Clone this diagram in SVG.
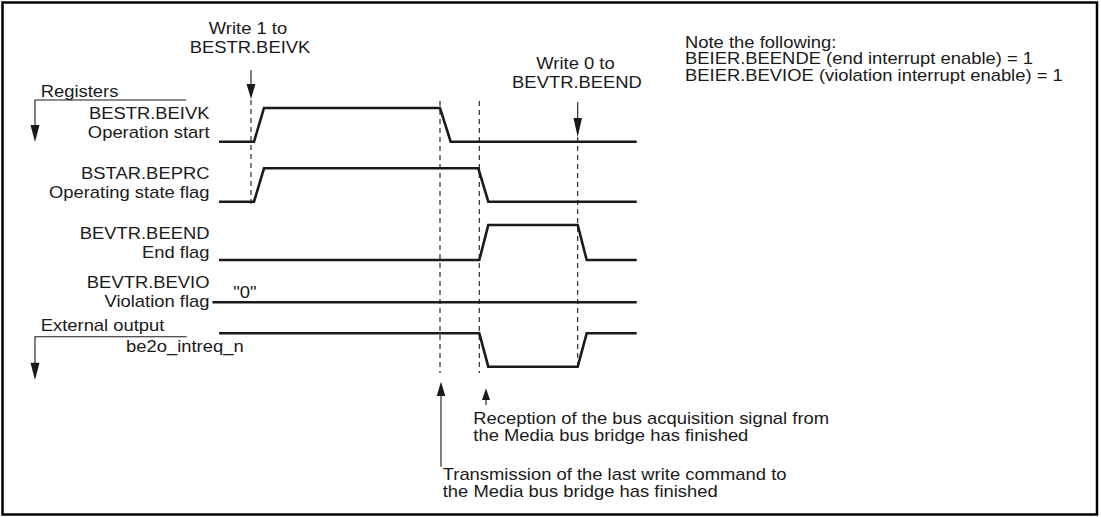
<svg xmlns="http://www.w3.org/2000/svg" width="1101" height="517" viewBox="0 0 1101 517">
<style>
text{font-family:"Liberation Sans",Arial,Helvetica,sans-serif;font-size:16px;fill:#1a1a1a}
.e{text-anchor:end}
.m{text-anchor:middle}
.sig{fill:none;stroke:#1a1a1a;stroke-width:2.6;stroke-linejoin:miter}
.dash{fill:none;stroke:#1a1a1a;stroke-width:1.1;stroke-dasharray:5 4}
.ln{fill:none;stroke:#1a1a1a;stroke-width:1.1}
.ah{fill:#1a1a1a;stroke:none}
</style>
<rect x="2.5" y="2.5" width="1094.5" height="512" fill="#fff" stroke="#000" stroke-width="2.5"/>

<g id="note">
<text transform="translate(685,47.7) scale(1.15,1)">Note the following:</text>
<text transform="translate(685,64.3) scale(1.15,1)">BEIER.BEENDE (end interrupt enable) = 1</text>
<text transform="translate(685,81) scale(1.15,1)">BEIER.BEVIOE (violation interrupt enable) = 1</text>
</g>

<g id="write1">
<text class="m" transform="translate(248,34.3) scale(1.15,1)">Write 1 to</text>
<text class="m" transform="translate(250,53.3) scale(1.15,1)">BESTR.BEIVK</text>
</g>
<g id="write0">
<text class="m" transform="translate(575.5,69.3) scale(1.15,1)">Write 0 to</text>
<text class="m" transform="translate(577,88.3) scale(1.15,1)">BEVTR.BEEND</text>
</g>

<g id="registers">
<text transform="translate(40.7,96.7) scale(1.15,1)">Registers</text>
<polyline class="ln" points="186,100 35,100 35,126"/>
<polygon class="ah" points="30.5,125 39.5,125 35,142"/>
</g>

<g id="bestr">
<text class="e" transform="translate(209.5,118.5) scale(1.15,1)">BESTR.BEIVK</text>
<text class="e" transform="translate(209.5,137.5) scale(1.15,1)">Operation start</text>
<path class="sig" d="M219,141.7 H254 L264,108 H440 L450.7,141.7 H636.7"/>
</g>

<g id="bstar">
<text class="e" transform="translate(209.5,179) scale(1.15,1)">BSTAR.BEPRC</text>
<text class="e" transform="translate(209.5,198) scale(1.15,1)">Operating state flag</text>
<path class="sig" d="M219,201.7 H254 L264,168.3 H478.3 L488.3,201.7 H636.7"/>
</g>

<g id="beend">
<text class="e" transform="translate(209.5,238.5) scale(1.15,1)">BEVTR.BEEND</text>
<text class="e" transform="translate(209.5,257.5) scale(1.15,1)">End flag</text>
<path class="sig" d="M219,260 H479.3 L488.3,225 H577.7 L586.7,260 H636.7"/>
</g>

<g id="bevio">
<text class="e" transform="translate(209.5,287.5) scale(1.15,1)">BEVTR.BEVIO</text>
<text class="e" transform="translate(209.5,306.5) scale(1.15,1)">Violation flag</text>
<text transform="translate(233.3,298) scale(1.15,1)">"0"</text>
<path class="sig" d="M212.5,302.3 H636.7"/>
</g>

<g id="external">
<text transform="translate(40.7,331) scale(1.15,1)">External output</text>
<polyline class="ln" points="186.7,336.7 35,336.7 35,363"/>
<polygon class="ah" points="30.5,362.7 39.5,362.7 35,380"/>
<text transform="translate(126,351.7) scale(1.15,1)">be2o_intreq_n</text>
<path class="sig" d="M219,333.3 H479.3 L488.3,366.7 H577.7 L586.7,333.3 H636.7"/>
</g>

<g id="reception">
<text transform="translate(473.3,424.3) scale(1.15,1)">Reception of the bus acquisition signal from</text>
<text transform="translate(473.3,440.8) scale(1.15,1)">the Media bus bridge has finished</text>
</g>
<g id="transmission">
<text transform="translate(442.7,479.5) scale(1.15,1)">Transmission of the last write command to</text>
<text transform="translate(442.7,497) scale(1.15,1)">the Media bus bridge has finished</text>
</g>

<g id="connectors">
<line class="dash" x1="251" y1="100" x2="251" y2="208"/>
<line class="dash" x1="440" y1="101" x2="440" y2="373"/>
<line class="dash" x1="479.3" y1="101" x2="479.3" y2="373"/>
<line class="dash" x1="577.7" y1="137" x2="577.7" y2="370"/>
<line class="ln" x1="251" y1="70" x2="251" y2="86"/>
<polygon class="ah" points="246.5,84 255.5,84 251,99"/>
<line class="ln" x1="577.7" y1="102" x2="577.7" y2="120"/>
<polygon class="ah" points="573.5,118 582,118 577.7,137"/>
<line class="ln" x1="441" y1="394" x2="441" y2="466.7"/>
<polygon class="ah" points="441,381.7 445.3,396 436.7,396"/>
<line class="ln" x1="486" y1="398" x2="486" y2="405"/>
<polygon class="ah" points="486,388.3 490,400 482,400"/>
</g>
</svg>
